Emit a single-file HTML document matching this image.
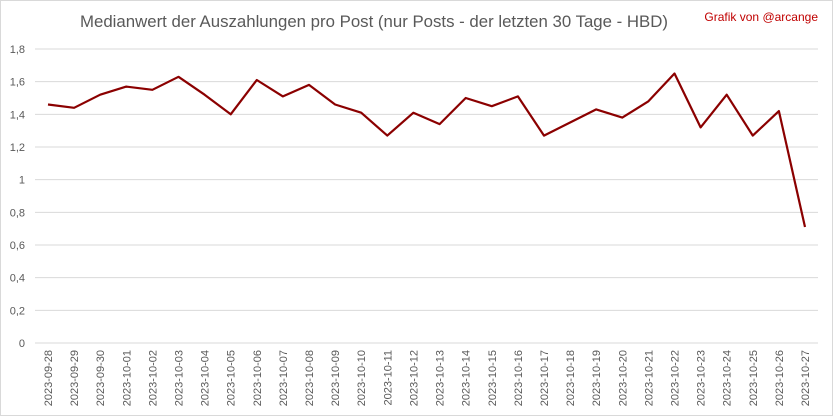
<!DOCTYPE html>
<html><head><meta charset="utf-8"><style>
html,body{margin:0;padding:0;background:#fff}
svg{display:block;font-family:"Liberation Sans",sans-serif}
</style></head><body>
<svg id="s" width="833" height="416" viewBox="0 0 833 416" xmlns="http://www.w3.org/2000/svg">
<rect x="0.5" y="0.5" width="832" height="415" fill="#fff" stroke="#d9d9d9"/>
<text x="80" y="27" font-size="17" fill="#595959" textLength="588" lengthAdjust="spacingAndGlyphs">Medianwert der Auszahlungen pro Post (nur Posts - der letzten 30 Tage - HBD)</text>
<text x="818" y="21" text-anchor="end" font-size="12" fill="#c00000">Grafik von @arcange</text>
<g id="g"></g>
</svg>
<script>
var g=document.getElementById('g'),h='';
var y0=343,k=163.33;
for(var i=0;i<=9;i++){var v=i*0.2,y=y0-v*k;
h+='<line x1="35" x2="818" y1="'+y+'" y2="'+y+'" stroke="#d9d9d9" stroke-width="1"/>';
h+='<text x="25" y="'+(y+4)+'" text-anchor="end" font-size="11" fill="#595959">'+(i==0?'0':(i==5?'1':v.toFixed(1).replace('.',',')))+'</text>';}
var vals=[1.46,1.44,1.52,1.57,1.55,1.63,1.52,1.40,1.61,1.51,1.58,1.46,1.41,1.27,1.41,1.34,1.50,1.45,1.51,1.27,1.35,1.43,1.38,1.48,1.65,1.32,1.52,1.27,1.42,0.71];
var dates=['2023-09-28','2023-09-29','2023-09-30'];
for(var d=1;d<=27;d++)dates.push('2023-10-'+(d<10?'0':'')+d);
var pts=[];
for(var i=0;i<30;i++){var x=48+i*757/29;pts.push(x.toFixed(1)+','+(y0-vals[i]*k).toFixed(1));
h+='<text transform="translate('+(x+4)+',350) rotate(-90)" text-anchor="end" font-size="11" fill="#595959">'+dates[i]+'</text>';}
h+='<polyline points="'+pts.join(' ')+'" fill="none" stroke="#8b0000" stroke-width="2.2" stroke-linejoin="round"/>';
g.innerHTML=h;
</script>
</body></html>
